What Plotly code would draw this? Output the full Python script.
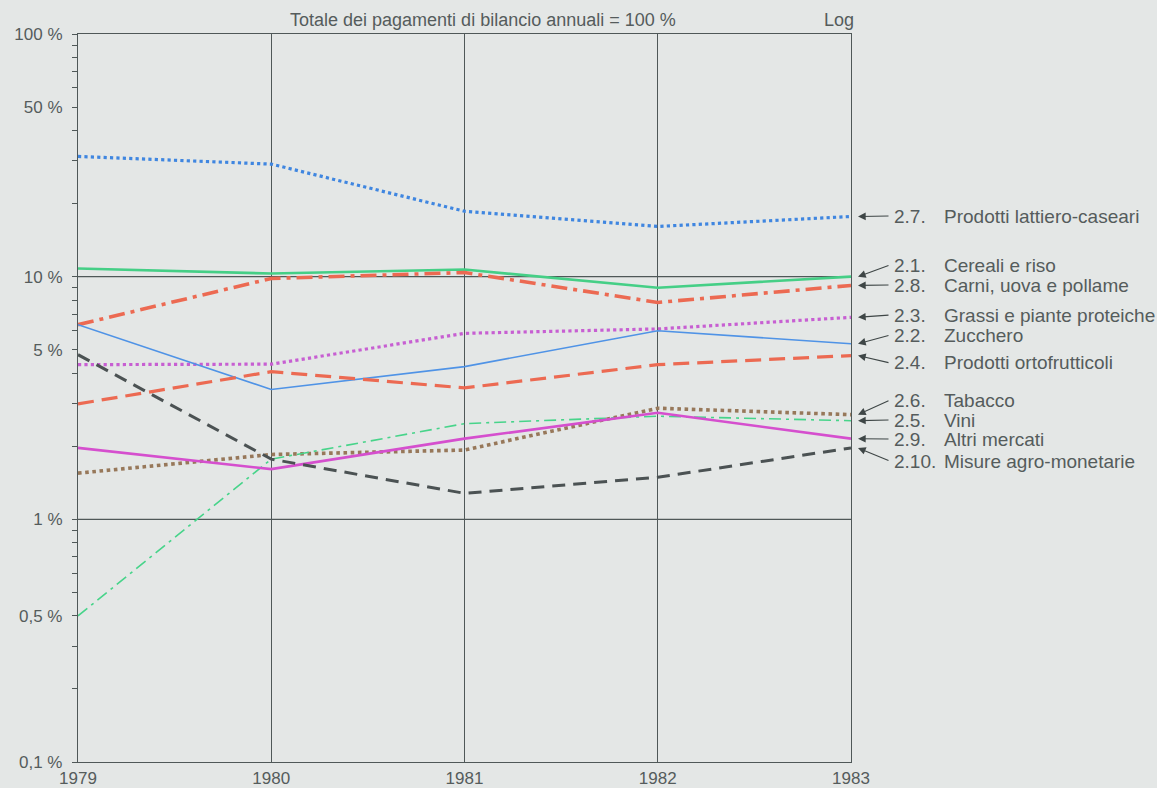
import math
import plotly.graph_objects as go

# Years on the horizontal axis
years = [1979, 1980, 1981, 1982, 1983]

# Shares of total annual budget payments (%), one list per market sector
lattiero_caseari = [31.3, 29.1, 18.6, 16.1, 17.7]
cereali_riso = [10.8, 10.3, 10.7, 9.0, 10.0]
carni_uova_pollame = [6.34, 9.83, 10.4, 7.83, 9.2]
grassi_proteiche = [4.34, 4.36, 5.84, 6.09, 6.8]
zucchero = [6.34, 3.43, 4.26, 5.99, 5.29]
ortofrutticoli = [2.99, 4.06, 3.48, 4.34, 4.73]
tabacco = [1.55, 1.85, 1.93, 2.87, 2.70]
vini = [0.40, 1.77, 2.48, 2.66, 2.55]
altri_mercati = [1.97, 1.61, 2.15, 2.75, 2.15]
agro_monetarie = [4.77, 1.77, 1.28, 1.49, 1.97]

# Y-axis ticks (log scale) and their labels
tick_values = [0.1, 0.2, 0.3, 0.4, 0.5, 0.6, 0.7, 0.8, 0.9,
               1, 2, 3, 4, 5, 6, 7, 8, 9,
               10, 20, 30, 40, 50, 60, 70, 80, 90, 100]
tick_labels = {0.1: "0,1 %", 0.4: "0,5 %", 1: "1 %", 5: "5 %",
               10: "10 %", 50: "50 %", 100: "100 %"}

# Series: (code, name, values, colour, width, dash, label row y in px)
series = [
    ("2.7.", "Prodotti lattiero-caseari", lattiero_caseari, "#3f86e0", 3.2, "dot", 216),
    ("2.1.", "Cereali e riso", cereali_riso, "#45cf86", 2.6, "solid", 265),
    ("2.8.", "Carni, uova e pollame", carni_uova_pollame, "#ec6a52", 3.6, "16px,6px,4px,6px", 285),
    ("2.3.", "Grassi e piante proteiche", grassi_proteiche, "#c75fd2", 3.2, "dot", 315),
    ("2.2.", "Zucchero", zucchero, "#4f93e6", 1.6, "solid", 335),
    ("2.4.", "Prodotti ortofrutticoli", ortofrutticoli, "#ec6a52", 3.2, "16px,8px", 363),
    ("2.6.", "Tabacco", tabacco, "#97785a", 3.6, "dot", 400),
    ("2.5.", "Vini", vini, "#47d48a", 1.6, "12px,5px,3px,5px", 420),
    ("2.9.", "Altri mercati", altri_mercati, "#d54fce", 2.6, "solid", 439),
    ("2.10.", "Misure agro-monetarie", agro_monetarie, "#4b5253", 3.0, "13px,8px", 461),
]

W, H = 1157, 788
ML, MR, MT, MB = 78, 306, 34, 26
PW, PH = W - ML - MR, H - MT - MB
AXIS = "#4f5858"
TEXT = "#555c5c"
BG = "#e4e7e6"
FONT = "Liberation Sans, Arial, sans-serif"


def log_to_px(v):
    # vertical pixel of a value on the log axis (range 0.1 .. 100)
    return MT + (2 - math.log10(v)) / 3 * PH


def px_to_paper_y(py):
    return 1 - (py - MT) / PH


def px_to_paper_x(px):
    return (px - ML) / PW


fig = go.Figure()

for code, name, vals, color, width, dash, _ in series:
    fig.add_trace(go.Scatter(
        x=years, y=vals, mode="lines", name=f"{code} {name}",
        line=dict(color=color, width=width, dash=dash),
        showlegend=False, hoverinfo="skip",
    ))

annotations = []
for code, name, vals, color, width, dash, row_y in series:
    tip_py = log_to_px(vals[-1])
    annotations.append(dict(
        x=1983, y=math.log10(vals[-1]), xref="x", yref="y",
        xshift=7, text="", showarrow=True,
        ax=32, ay=row_y - tip_py, axref="pixel", ayref="pixel",
        arrowhead=2, arrowsize=1.4, arrowwidth=1.1, arrowcolor="#3e4646",
    ))
    annotations.append(dict(
        x=px_to_paper_x(892), y=px_to_paper_y(row_y), xref="paper", yref="paper",
        text=code, showarrow=False, xanchor="left", yanchor="middle",
        font=dict(family=FONT, size=19, color=TEXT),
    ))
    annotations.append(dict(
        x=px_to_paper_x(942), y=px_to_paper_y(row_y), xref="paper", yref="paper",
        text=name, showarrow=False, xanchor="left", yanchor="middle",
        font=dict(family=FONT, size=19, color=TEXT),
    ))

annotations.append(dict(
    x=px_to_paper_x(483), y=px_to_paper_y(20), xref="paper", yref="paper",
    text="Totale dei pagamenti di bilancio annuali = 100 %", showarrow=False,
    xanchor="center", yanchor="middle",
    font=dict(family=FONT, size=18, color=TEXT),
))
annotations.append(dict(
    x=px_to_paper_x(856), y=px_to_paper_y(20), xref="paper", yref="paper",
    text="Log", showarrow=False, xanchor="right", yanchor="middle",
    font=dict(family=FONT, size=18, color=TEXT),
))

# Horizontal reference lines at 1 % and 10 %
shapes = [
    dict(type="line", xref="paper", yref="y", x0=0, x1=1, y0=v, y1=v,
         line=dict(color=AXIS, width=1.2), layer="below")
    for v in (1, 10)
]

fig.update_layout(
    width=W, height=H,
    margin=dict(l=ML, r=MR, t=MT, b=MB, autoexpand=False),
    paper_bgcolor=BG, plot_bgcolor=BG,
    annotations=annotations, shapes=shapes,
    xaxis=dict(
        range=[1979, 1983], tickvals=years, ticktext=[str(y) for y in years],
        showgrid=True, gridcolor=AXIS, gridwidth=1.2,
        showline=True, linecolor=AXIS, linewidth=1.2, mirror=True,
        ticks="", zeroline=False, automargin=False,
        tickfont=dict(family=FONT, size=17, color=TEXT),
    ),
    yaxis=dict(
        type="log", range=[-1, 2],
        tickvals=tick_values,
        ticktext=[tick_labels.get(v, "") for v in tick_values],
        ticks="outside", ticklen=5, tickcolor=AXIS, tickwidth=1,
        ticklabelstandoff=6,
        showgrid=False, zeroline=False, automargin=False,
        showline=True, linecolor=AXIS, linewidth=1.2, mirror=True,
        tickfont=dict(family=FONT, size=17, color=TEXT),
    ),
)

fig.write_html("out.html")
